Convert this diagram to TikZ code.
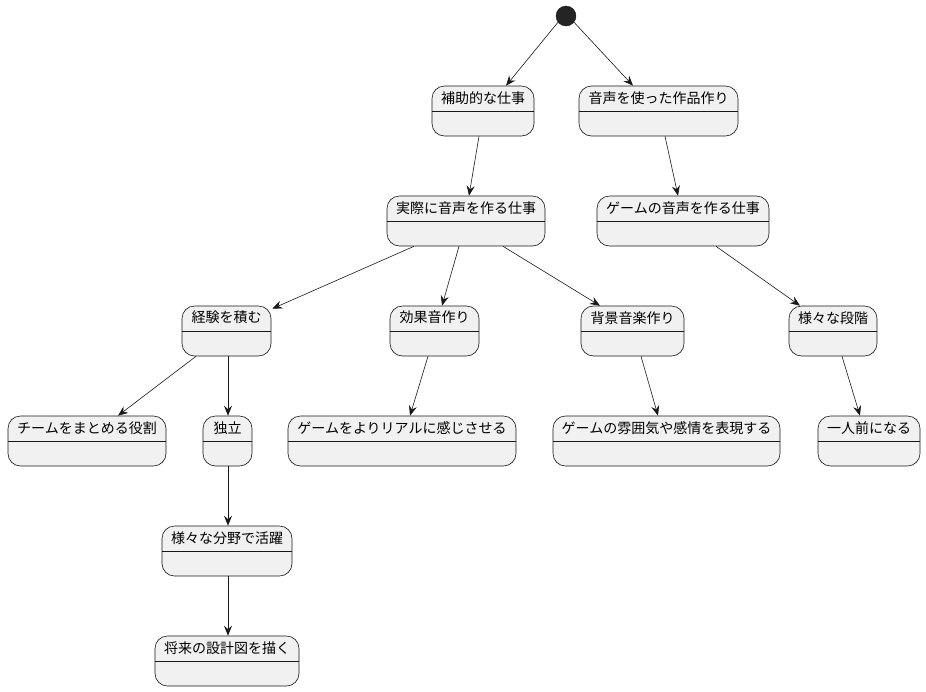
\documentclass[tikz,border=0pt]{standalone}
\usepackage{fontspec}
\setmainfont{Noto Sans CJK JP}
\usetikzlibrary{arrows.meta}
\definecolor{stfill}{HTML}{F1F1F1}
\definecolor{stline}{HTML}{181818}
\tikzset{
  st/.style={draw=stline, fill=stfill, line width=0.6pt, rounded corners=12.5pt,
    minimum height=50pt, inner sep=0pt,
    path picture={\draw[stline, line width=0.6pt] (path picture bounding box.west) -- (path picture bounding box.east);}},
  ttl/.style={anchor=center, yshift=-12pt, font=\fontsize{14}{16}\selectfont, text=black},
  tr/.style={draw=stline, line width=0.6pt, -{Stealth[length=10pt,width=8pt,inset=3.5pt]}}
}
\newcommand{\stnode}[5]{\node[st, minimum width=#4pt, label={[ttl]north:#5}] (#1) at (#2,#3) {};}
\begin{document}
\begin{tikzpicture}[x=1pt,y=-1pt]
\useasboundingbox (0,0) rectangle (926,691);
\node[circle, fill=stline!95, draw=stline, minimum size=20pt, inner sep=0pt] (s) at (566,16) {};
\stnode{n1}{483}{111}{102}{補助的な仕事}
\stnode{n2}{658.5}{111}{159}{音声を使った作品作り}
\stnode{n3}{466}{221}{158}{実際に音声を作る仕事}
\stnode{n4}{683}{221}{172}{ゲームの音声を作る仕事}
\stnode{n5}{226.5}{331}{89}{経験を積む}
\stnode{n6}{434.5}{331}{89}{効果音作り}
\stnode{n7}{632.5}{331}{103}{背景音楽作り}
\stnode{n8}{833}{331}{88}{様々な段階}
\stnode{n9}{87}{441}{158}{チームをまとめる役割}
\stnode{n10}{227.5}{441}{49}{独立}
\stnode{n11}{402}{441}{228}{ゲームをよりリアルに感じさせる}
\stnode{n12}{666.5}{441}{227}{ゲームの雰囲気や感情を表現する}
\stnode{n13}{869}{441}{102}{一人前になる}
\stnode{n14}{227}{551}{130}{様々な分野で活躍}
\stnode{n15}{227}{661}{144}{将来の設計図を描く}
\draw[tr] (s.218) -- ([xshift=23pt]n1.north);
\draw[tr] (s.322) -- ([xshift=-25.5pt]n2.north);
\draw[tr] ([xshift=-4pt]n1.south) -- ([xshift=3pt]n3.north);
\draw[tr] ([xshift=6.5pt]n2.south) -- ([xshift=-5pt]n4.north);
\draw[tr] ([xshift=-52pt]n3.south) -- ([xshift=1pt,yshift=-3pt]n5.north east);
\draw[tr] ([xshift=-7pt]n3.south) -- ([xshift=7.5pt]n6.north);
\draw[tr] ([xshift=37pt]n3.south) -- ([xshift=-32.5pt]n7.north);
\draw[tr] ([xshift=33pt]n4.south) -- ([xshift=-33pt]n8.north);
\draw[tr] ([xshift=-30.5pt]n5.south) -- ([xshift=31pt]n9.north);
\draw[tr] ([xshift=1.5pt]n5.south) -- ([xshift=0.5pt]n10.north);
\draw[tr] ([xshift=-6.5pt]n6.south) -- ([xshift=8pt]n11.north);
\draw[tr] ([xshift=8.5pt]n7.south) -- ([xshift=-8.5pt]n12.north);
\draw[tr] ([xshift=9pt]n8.south) -- ([xshift=-9pt]n13.north);
\draw[tr] ([xshift=0.5pt]n10.south) -- ([xshift=1pt]n14.north);
\draw[tr] ([xshift=1pt]n14.south) -- ([xshift=1pt]n15.north);
\end{tikzpicture}
\end{document}
